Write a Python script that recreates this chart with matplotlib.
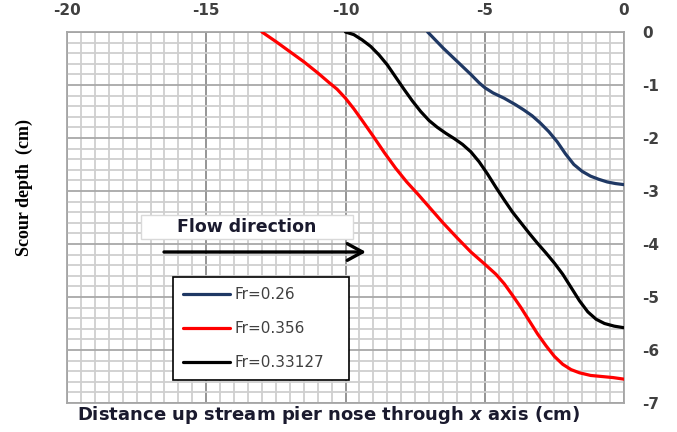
import numpy as np
import matplotlib.pyplot as plt
from matplotlib.patches import Rectangle
from matplotlib.ticker import MultipleLocator

plt.rcParams["axes.unicode_minus"] = False
plt.rcParams["mathtext.fontset"] = "custom"
plt.rcParams["mathtext.it"] = "DejaVu Sans:italic:bold"

# Scour profiles along the x axis (cm), one per Froude number
x_fr026 = [-7.05, -6.5, -6.0, -5.5, -5.2, -5.0, -4.7, -4.3, -3.9, -3.6,
           -3.3, -3.0, -2.7, -2.4, -2.1, -1.8, -1.5, -1.2, -0.9, -0.6,
           -0.3, 0.0]
y_fr026 = [0.0, -0.3, -0.55, -0.8, -0.96, -1.05, -1.15, -1.25, -1.37,
           -1.47, -1.58, -1.72, -1.88, -2.07, -2.3, -2.5, -2.63, -2.72,
           -2.78, -2.83, -2.86, -2.88]

x_fr0356 = [-13.0, -12.5, -12.0, -11.5, -11.0, -10.6, -10.3, -10.0, -9.7,
            -9.4, -9.0, -8.6, -8.2, -7.8, -7.4, -7.0, -6.5, -6.0, -5.5,
            -5.0, -4.6, -4.3, -4.0, -3.7, -3.4, -3.1, -2.8, -2.5, -2.2,
            -1.9, -1.6, -1.2, -0.8, -0.4, 0.0]
y_fr0356 = [0.0, -0.18, -0.37, -0.56, -0.77, -0.95, -1.08, -1.25, -1.45,
            -1.67, -1.97, -2.28, -2.57, -2.83, -3.06, -3.3, -3.6, -3.88,
            -4.15, -4.38, -4.57, -4.75, -4.97, -5.2, -5.45, -5.7, -5.92,
            -6.12, -6.27, -6.37, -6.43, -6.48, -6.5, -6.52, -6.55]

x_fr033 = [-10.0, -9.7, -9.4, -9.1, -8.8, -8.5, -8.2, -7.9, -7.6, -7.3,
           -7.0, -6.7, -6.4, -6.1, -5.8, -5.5, -5.2, -4.9, -4.6, -4.3,
           -4.0, -3.7, -3.4, -3.1, -2.8, -2.5, -2.2, -1.9, -1.6, -1.3,
           -1.0, -0.7, -0.35, 0.0]
y_fr033 = [0.0, -0.05, -0.15, -0.27, -0.43, -0.62, -0.85, -1.08, -1.3,
           -1.5, -1.67, -1.8, -1.91, -2.01, -2.12, -2.26, -2.45, -2.68,
           -2.93, -3.17, -3.4, -3.6, -3.8, -3.99, -4.17, -4.36, -4.57,
           -4.82, -5.07, -5.28, -5.42, -5.5, -5.55, -5.58]

series_labels = ["Fr=0.26", "Fr=0.356", "Fr=0.33127"]
series_colors = ["#1f3864", "#ff0000", "#000000"]

W, H = 677, 432


def fig_xy(px, py):
    """Pixel position (from top-left) to figure fraction."""
    return px / W, 1 - py / H


fig = plt.figure(figsize=(W / 100, H / 100), dpi=100)
left, top = fig_xy(67, 32)
right, bottom = fig_xy(624, 403)
ax = fig.add_axes([left, bottom, right - left, top - bottom])

for xs, ys, lab, col in zip(
    [x_fr026, x_fr0356, x_fr033],
    [y_fr026, y_fr0356, y_fr033],
    series_labels,
    series_colors,
):
    ax.plot(xs, ys, color=col, lw=2.3, label=lab,
            solid_joinstyle="round", solid_capstyle="round", zorder=3)

ax.set_xlim(-20, 0)
ax.set_ylim(-7, 0)
ax.xaxis.set_major_locator(MultipleLocator(5))
ax.xaxis.set_minor_locator(MultipleLocator(0.5))
ax.yaxis.set_major_locator(MultipleLocator(1))
ax.yaxis.set_minor_locator(MultipleLocator(0.2))

ax.grid(which="minor", color="#cfcfcf", lw=1.3)
ax.grid(which="major", axis="y", color="#a8a8a8", lw=1.3)
ax.grid(which="major", axis="x", color="#8c8c8c", lw=1.3)
ax.set_axisbelow(True)

for sp in ax.spines.values():
    sp.set_color("#a6a6a6")
    sp.set_linewidth(1.3)

ax.xaxis.tick_top()
ax.yaxis.tick_right()
ax.tick_params(which="both", length=0)
ax.tick_params(axis="x", pad=10)
ax.tick_params(axis="y", pad=13)
for t in ax.get_xticklabels() + ax.get_yticklabels():
    t.set_fontfamily("DejaVu Sans")
    t.set_fontweight("bold")
    t.set_fontsize(11)
    t.set_color("#404040")

# Legend box
lx, ly = fig_xy(173, 380)
lw_, lh = 176 / W, 103 / H
leg = ax.legend(
    loc="upper left",
    bbox_to_anchor=(lx, ly, lw_, lh),
    bbox_transform=fig.transFigure,
    mode="expand",
    borderaxespad=0,
    fancybox=False,
    framealpha=1,
    edgecolor="black",
    prop={"family": "DejaVu Sans", "size": 11},
    labelcolor="#404040",
    handlelength=3.1,
    handletextpad=0.3,
    labelspacing=1.25,
    borderpad=0.65,
)
leg.get_frame().set_linewidth(1.2)

# Flow direction label and arrow
bx0, by0 = fig_xy(141, 239)
bx1, by1 = fig_xy(353, 215)
ax.add_patch(Rectangle((bx0, by0), bx1 - bx0, by1 - by0,
                       transform=fig.transFigure, fc="white",
                       ec="#d9d9d9", lw=1, clip_on=False, zorder=5))
fig.text((bx0 + bx1) / 2, (by0 + by1) / 2, "Flow direction",
         ha="center", va="center", family="DejaVu Sans", weight="bold",
         fontsize=12.5, color="#1a1a2e", zorder=6)
ax.annotate("", xy=fig_xy(366, 252), xytext=fig_xy(164, 252),
            xycoords="figure fraction", textcoords="figure fraction",
            arrowprops=dict(arrowstyle="->,head_length=0.55,head_width=0.3",
                            lw=2.4, color="black", mutation_scale=20,
                            shrinkA=0, shrinkB=0),
            zorder=6)

# Axis titles
fig.text(*fig_xy(329, 415),
         r"Distance up stream pier nose through $x$ axis (cm)",
         ha="center", va="center", family="DejaVu Sans", weight="bold",
         fontsize=13, color="#1a1a2e")
fig.text(*fig_xy(24, 188), "Scour depth  (cm)", rotation=90,
         ha="center", va="center", family="Liberation Serif",
         weight="bold", fontsize=13, color="black")

fig.savefig("out.png", dpi=100)
